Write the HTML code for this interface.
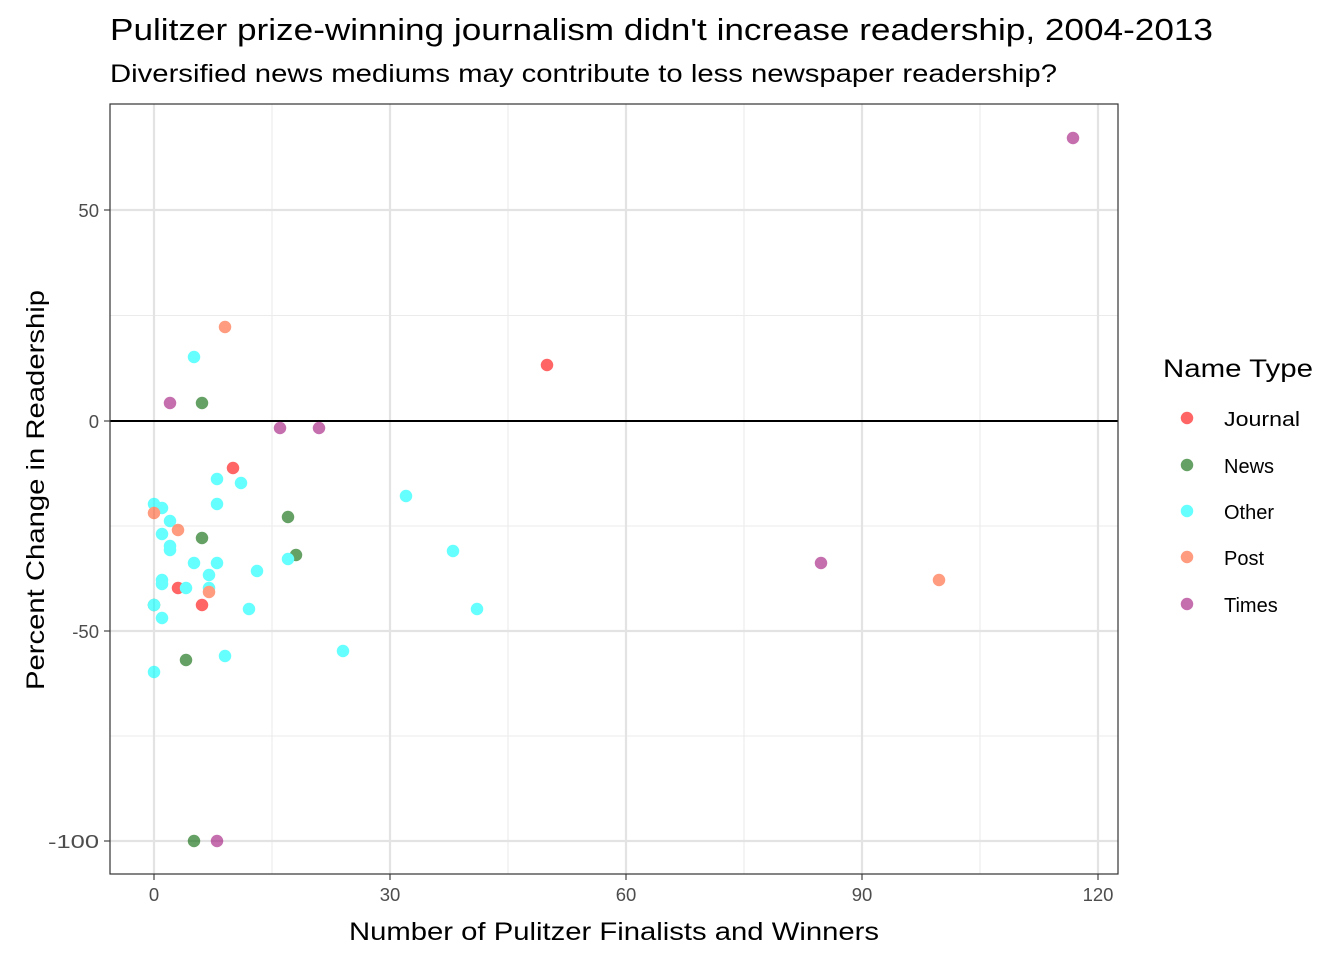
<!DOCTYPE html>
<html><head><meta charset="utf-8"><style>body{margin:0;background:#fff}</style></head><body>
<svg width="1344" height="960" xmlns="http://www.w3.org/2000/svg" font-family="Liberation Sans, Arial, sans-serif">
<rect width="1344" height="960" fill="#fff"/>
<g stroke="#ebebeb" stroke-width="1.1">
<line x1="272" y1="104" x2="272" y2="874"/><line x1="508" y1="104" x2="508" y2="874"/><line x1="744" y1="104" x2="744" y2="874"/><line x1="980" y1="104" x2="980" y2="874"/>
<line x1="110" y1="315.5" x2="1118" y2="315.5"/><line x1="110" y1="526" x2="1118" y2="526"/><line x1="110" y1="736" x2="1118" y2="736"/>
</g>
<g stroke="#e3e3e3" stroke-width="2.2">
<line x1="154" y1="104" x2="154" y2="874"/><line x1="390" y1="104" x2="390" y2="874"/><line x1="626" y1="104" x2="626" y2="874"/><line x1="862" y1="104" x2="862" y2="874"/><line x1="1098" y1="104" x2="1098" y2="874"/>
<line x1="110" y1="210" x2="1118" y2="210"/><line x1="110" y1="631" x2="1118" y2="631"/><line x1="110" y1="841" x2="1118" y2="841"/>
</g>
<line x1="110" y1="421" x2="1118" y2="421" stroke="#000" stroke-width="2"/>
<g opacity="0.6" stroke-width="1.5">
<g fill="#ff0000" stroke="#ff0000">
<circle cx="547" cy="365" r="5.5"/><circle cx="233" cy="468" r="5.5"/><circle cx="178" cy="588" r="5.5"/><circle cx="202" cy="605" r="5.5"/></g>
<g fill="#006400" stroke="#006400">
<circle cx="202" cy="403" r="5.5"/><circle cx="288" cy="517" r="5.5"/><circle cx="202" cy="538" r="5.5"/><circle cx="296" cy="555" r="5.5"/><circle cx="154" cy="605" r="5.5"/><circle cx="186" cy="660" r="5.5"/><circle cx="194" cy="841" r="5.5"/></g>
<g fill="#00ffff" stroke="#00ffff">
<circle cx="194" cy="357" r="5.5"/><circle cx="217" cy="479" r="5.5"/><circle cx="241" cy="483" r="5.5"/><circle cx="154" cy="504" r="5.5"/><circle cx="162" cy="508" r="5.5"/><circle cx="217" cy="504" r="5.5"/><circle cx="170" cy="521" r="5.5"/><circle cx="162" cy="534" r="5.5"/><circle cx="170" cy="546" r="5.5"/><circle cx="170" cy="550" r="5.5"/><circle cx="194" cy="563" r="5.5"/><circle cx="217" cy="563" r="5.5"/><circle cx="257" cy="571" r="5.5"/><circle cx="288" cy="559" r="5.5"/><circle cx="209" cy="575" r="5.5"/><circle cx="162" cy="580" r="5.5"/><circle cx="162" cy="584" r="5.5"/><circle cx="186" cy="588" r="5.5"/><circle cx="209" cy="588" r="5.5"/><circle cx="154" cy="605" r="5.5"/><circle cx="249" cy="609" r="5.5"/><circle cx="162" cy="618" r="5.5"/><circle cx="225" cy="656" r="5.5"/><circle cx="154" cy="672" r="5.5"/><circle cx="406" cy="496" r="5.5"/><circle cx="453" cy="551" r="5.5"/><circle cx="477" cy="609" r="5.5"/><circle cx="343" cy="651" r="5.5"/></g>
<g fill="#ff5a2a" stroke="#ff5a2a">
<circle cx="225" cy="327" r="5.5"/><circle cx="154" cy="513" r="5.5"/><circle cx="178" cy="530" r="5.5"/><circle cx="209" cy="592" r="5.5"/><circle cx="939" cy="580" r="5.5"/></g>
<g fill="#a0107a" stroke="#a0107a">
<circle cx="170" cy="403" r="5.5"/><circle cx="280" cy="428" r="5.5"/><circle cx="319" cy="428" r="5.5"/><circle cx="217" cy="841" r="5.5"/><circle cx="821" cy="563" r="5.5"/><circle cx="1073" cy="138" r="5.5"/></g>
</g>
<rect x="110" y="104" width="1008" height="770" fill="none" stroke="#333" stroke-width="1.2"/>
<g stroke="#333" stroke-width="1.1">
<line x1="154" y1="874" x2="154" y2="880"/><line x1="390" y1="874" x2="390" y2="880"/><line x1="626" y1="874" x2="626" y2="880"/><line x1="862" y1="874" x2="862" y2="880"/><line x1="1098" y1="874" x2="1098" y2="880"/>
<line x1="104" y1="210" x2="110" y2="210"/><line x1="104" y1="421" x2="110" y2="421"/><line x1="104" y1="631" x2="110" y2="631"/><line x1="104" y1="841" x2="110" y2="841"/>
</g>
<g font-size="18.5" fill="#4d4d4d">
<g text-anchor="middle"><text x="154" y="901">0</text><text x="390" y="901">30</text><text x="626" y="901">60</text><text x="862" y="901">90</text><text x="1098" y="901">120</text></g>
<g text-anchor="end"><text x="99" y="217">50</text><text x="99" y="428">0</text><text x="99" y="638">-50</text><text x="99" y="848" textLength="51" lengthAdjust="spacingAndGlyphs">-100</text></g>
</g>
<text x="349" y="940" font-size="25" textLength="530" lengthAdjust="spacingAndGlyphs">Number of Pulitzer Finalists and Winners</text>
<text transform="translate(44,690) rotate(-90)" font-size="25" textLength="400" lengthAdjust="spacingAndGlyphs">Percent Change in Readership</text>
<text x="110" y="40" font-size="31" textLength="1103" lengthAdjust="spacingAndGlyphs">Pulitzer prize-winning journalism didn't increase readership, 2004-2013</text>
<text x="110" y="82" font-size="25" textLength="947" lengthAdjust="spacingAndGlyphs">Diversified news mediums may contribute to less newspaper readership?</text>
<text x="1163" y="377" font-size="25" textLength="150" lengthAdjust="spacingAndGlyphs">Name Type</text>
<g opacity="0.6" stroke-width="1.5">
<circle cx="1187" cy="418" r="5.5" fill="#ff0000" stroke="#ff0000"/>
<circle cx="1187" cy="465" r="5.5" fill="#006400" stroke="#006400"/>
<circle cx="1187" cy="511" r="5.5" fill="#00ffff" stroke="#00ffff"/>
<circle cx="1187" cy="557" r="5.5" fill="#ff5a2a" stroke="#ff5a2a"/>
<circle cx="1187" cy="604" r="5.5" fill="#a0107a" stroke="#a0107a"/>
</g>
<g font-size="20">
<text x="1224" y="426" textLength="76" lengthAdjust="spacingAndGlyphs">Journal</text><text x="1224" y="473">News</text><text x="1224" y="519">Other</text><text x="1224" y="565">Post</text><text x="1224" y="612">Times</text>
</g>
</svg>
</body></html>
